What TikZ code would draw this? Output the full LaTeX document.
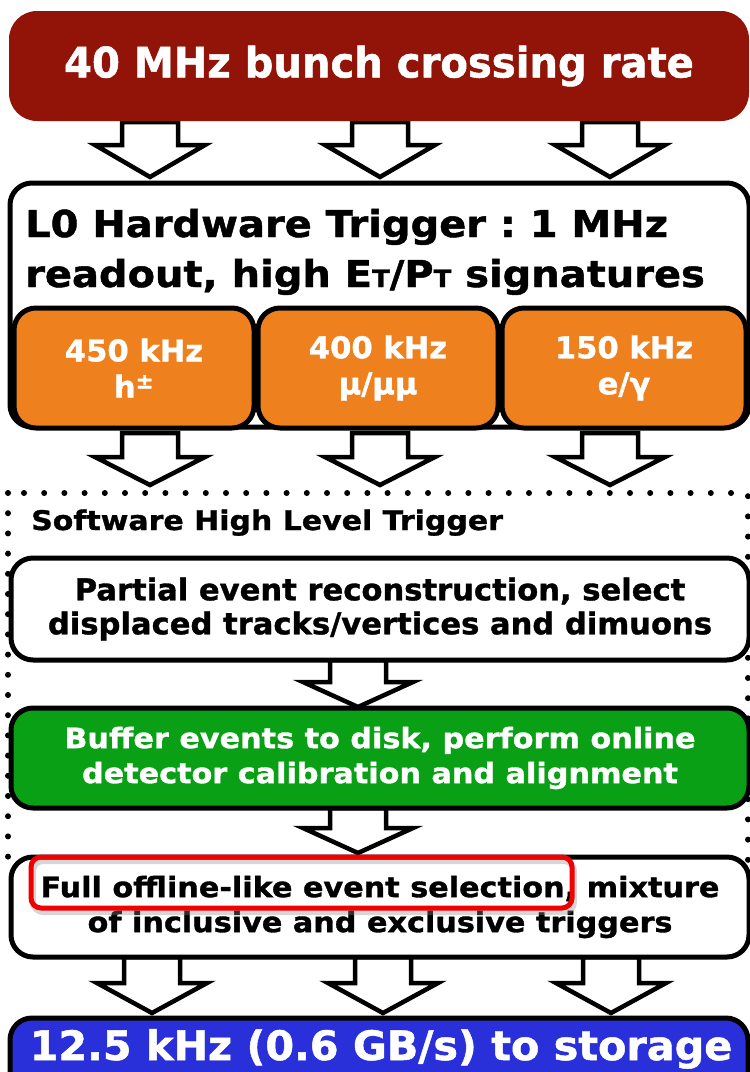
\documentclass[tikz,border=0pt]{standalone}
\usepackage{fontspec}
\newfontfamily\vfT{DejaVu Sans}[FakeStretch=0.955,FakeBold=1.2]
\newfontfamily\vfA{DejaVu Sans}[FakeStretch=1.02,FakeBold=1.2]
\newfontfamily\vfB{DejaVu Sans}[FakeStretch=1.08,FakeBold=1.2]
\newfontfamily\vfC{DejaVu Sans}[FakeStretch=1.11,FakeBold=1.2]
\definecolor{topred}{RGB}{146,19,7}
\definecolor{l0orange}{RGB}{239,128,30}
\definecolor{hltgreen}{RGB}{10,160,22}
\definecolor{storeblue}{RGB}{42,48,217}
\definecolor{hlred}{RGB}{240,0,0}
\newcommand\fs[1]{\fontsize{#1}{#1}\selectfont}
\newcommand\subT[1]{{\fontsize{#1}{#1}\selectfont T}}
\newcommand\blockarrow[4]{%
  \draw[barrow] (#1-28,#2) -- (#1+28,#2) -- (#1+28,#3) -- (#1+55,#3) -- (#1,#4)
    -- (#1-55,#3) -- (#1-28,#3) -- cycle;}
\frenchspacing
\begin{document}
\begin{tikzpicture}[x=1pt,y=-1pt,
  box/.style={draw=black,line width=5pt,rounded corners=22pt,fill=white,inner sep=0pt,align=center},
  barrow/.style={draw=black,fill=white,line width=4.5pt,miter limit=10},
  txt/.style={inner sep=0pt,anchor=base}]
\useasboundingbox (0,0) rectangle (750,1072);
% block arrows
\blockarrow{150}{122}{145}{177}
\blockarrow{380}{122}{145}{177}
\blockarrow{610}{122}{145}{177}
\blockarrow{150}{433}{457}{485}
\blockarrow{380}{433}{457}{485}
\blockarrow{610}{433}{457}{485}
\blockarrow{358}{660}{682}{707}
\blockarrow{358}{808}{828}{853}
\blockarrow{152}{957}{983}{1013}
\blockarrow{383}{957}{983}{1013}
\blockarrow{611}{957}{983}{1013}
% top
\node[fill=topred,rounded corners=28pt,minimum width=740pt,minimum height=110pt,inner sep=0pt,
  text=white,font=\vfT\bfseries\fs{42}] (top) at (379,66) {40 MHz bunch crossing rate};
% L0
\node[box,minimum width=739pt,minimum height=244pt] (l0) at (379.5,305) {};
\node[txt,anchor=base west,font=\vfB\bfseries\fs{37}] (l0a) at (25,237) {L0 Hardware Trigger : 1 MHz};
\node[txt,anchor=base west,font=\vfB\bfseries\fs{37}] (l0b) at (25,287) {readout, high E\subT{24}/P\subT{24} signatures};
\node[box,fill=l0orange,minimum width=240pt,minimum height=120pt,text=white,font=\vfA\bfseries\fs{30}] (o1) at (134,368) {450 kHz\\[6pt]h\textsuperscript{±}};
\node[box,fill=l0orange,minimum width=240pt,minimum height=120pt,text=white,font=\vfA\bfseries\fs{30}] (o2) at (378,368) {400 kHz\\[6pt]μ/μμ};
\node[box,fill=l0orange,minimum width=244pt,minimum height=120pt,text=white,font=\vfA\bfseries\fs{30}] (o3) at (624,368) {150 kHz\\[6pt]e/γ};
% HLT
\draw[line width=6pt,line cap=round,dash pattern=on 0pt off 20.2pt] (8,493) rectangle (748,872);
\node[txt,anchor=base west,font=\vfC\bfseries\fs{27}] (hlt) at (31,530) {Software High Level Trigger};
\node[box,minimum width=738pt,minimum height=102pt,font=\vfA\bfseries\fs{30}] (part) at (380,609)
  {Partial event reconstruction, select\\[4pt]displaced tracks/vertices and dimuons};
\node[box,fill=hltgreen,minimum width=738pt,minimum height=100pt,text=white,font=\vfB\bfseries\fs{28}] (buf) at (380,758)
  {Buffer events to disk, perform online\\[7pt]detector calibration and alignment};
\node[box,minimum width=738pt,minimum height=100pt,font=\vfB\bfseries\fs{28}] (full) at (380,907)
  {Full offline-like event selection, mixture\\[7pt]of inclusive and exclusive triggers};
% highlight
\draw[black!45,opacity=0.35,line width=6pt,rounded corners=10pt] (33,861) rectangle (574,912);
\node[draw=hlred,line width=5pt,rounded corners=10pt,minimum width=541pt,minimum height=51pt,inner sep=0pt] (hl) at (301.5,882.5) {};
% storage
\node[box,fill=storeblue,minimum width=738pt,minimum height=92pt] (store) at (379,1064) {};
\node[txt,text=white,font=\vfA\bfseries\fs{40.5}] (storet) at (381,1060) {12.5 kHz (0.6 GB/s) to storage};
\end{tikzpicture}
\end{document}
